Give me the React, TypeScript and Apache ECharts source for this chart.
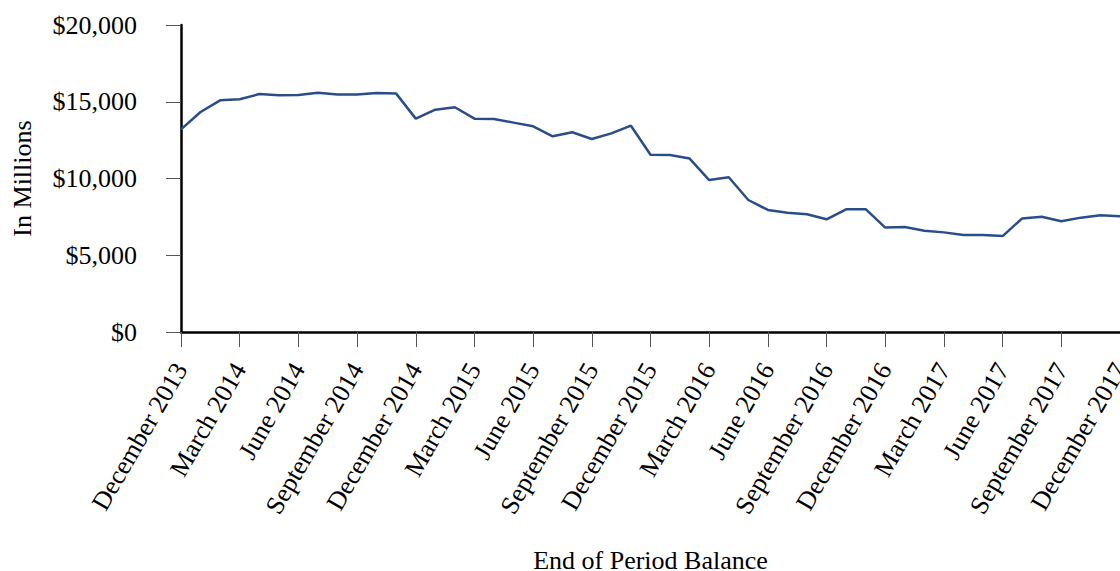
import React, { useEffect, useRef } from "react";
import * as echarts from "echarts";

const monthNames = ["January","February","March","April","May","June","July","August","September","October","November","December"];
const startYear = 2013;
const startMonth = 11; // December
const balances = [
  13200, 14330, 15090, 15160, 15500, 15420, 15440, 15590, 15480, 15480, 15570, 15530,
  13900, 14480, 14640, 13900, 13880, 13640, 13400, 12750, 13010, 12570, 12940, 13440,
  11550, 11530, 11300, 9900, 10080, 8600, 7950, 7770, 7670, 7340, 7990, 8000,
  6800, 6840, 6600, 6490, 6320, 6320, 6250, 7400, 7510, 7210, 7450, 7600, 7540,
];
const categories = balances.map((_, i) => {
  const m = (startMonth + i) % 12;
  const y = startYear + Math.floor((startMonth + i) / 12);
  return `${monthNames[m]} ${y}`;
});
const yTicks = [0, 5000, 10000, 15000, 20000];

const FONT = "'Liberation Serif', 'Times New Roman', serif";

export default function App() {
  const ref = useRef<HTMLDivElement>(null);
  useEffect(() => {
    if (!ref.current) return;
    const chart = echarts.init(ref.current, undefined, { renderer: "svg" });
    chart.setOption({
      animation: false,
      backgroundColor: "#ffffff",
      textStyle: { fontFamily: FONT },
      grid: { left: 181, right: 20, top: 25, bottom: 239, containLabel: false, outerBoundsMode: "none" },
      xAxis: {
        type: "category",
        data: categories,
        boundaryGap: false,
        name: "End of Period Balance",
        nameLocation: "middle",
        nameGap: 215,
        nameTextStyle: { fontFamily: FONT, fontSize: 26, color: "#000" },
        axisLine: { show: true, lineStyle: { color: "#000", width: 2.5 } },
        axisTick: { show: true, interval: 2, length: 15, lineStyle: { color: "#555", width: 1 } },
        axisLabel: {
          interval: 2,
          rotate: 60,
          margin: 33,
          fontFamily: FONT,
          fontSize: 26,
          color: "#000",
        },
        splitLine: { show: false },
      },
      yAxis: {
        type: "value",
        min: yTicks[0],
        max: yTicks[yTicks.length - 1],
        interval: 5000,
        name: "In Millions",
        nameLocation: "middle",
        nameGap: 146,
        nameTextStyle: { fontFamily: FONT, fontSize: 26, color: "#000" },
        axisLine: { show: true, lineStyle: { color: "#000", width: 2.5 } },
        axisTick: { show: true, length: 15, lineStyle: { color: "#555", width: 1 } },
        axisLabel: {
          margin: 44,
          fontFamily: FONT,
          fontSize: 26,
          color: "#000",
          formatter: (v: number) => "$" + v.toLocaleString("en-US"),
        },
        splitLine: { show: false },
      },
      series: [
        {
          type: "line",
          data: balances,
          symbol: "none",
          lineStyle: { color: "#2a4d8a", width: 2.5 },
        },
      ],
    });
    return () => chart.dispose();
  }, []);
  return (
    <div style={{ position: "fixed", left: 0, top: 0, width: 1120, height: 571, overflow: "hidden", background: "#fff" }}>
      <div ref={ref} style={{ width: 1140, height: 571 }} />
    </div>
  );
}
